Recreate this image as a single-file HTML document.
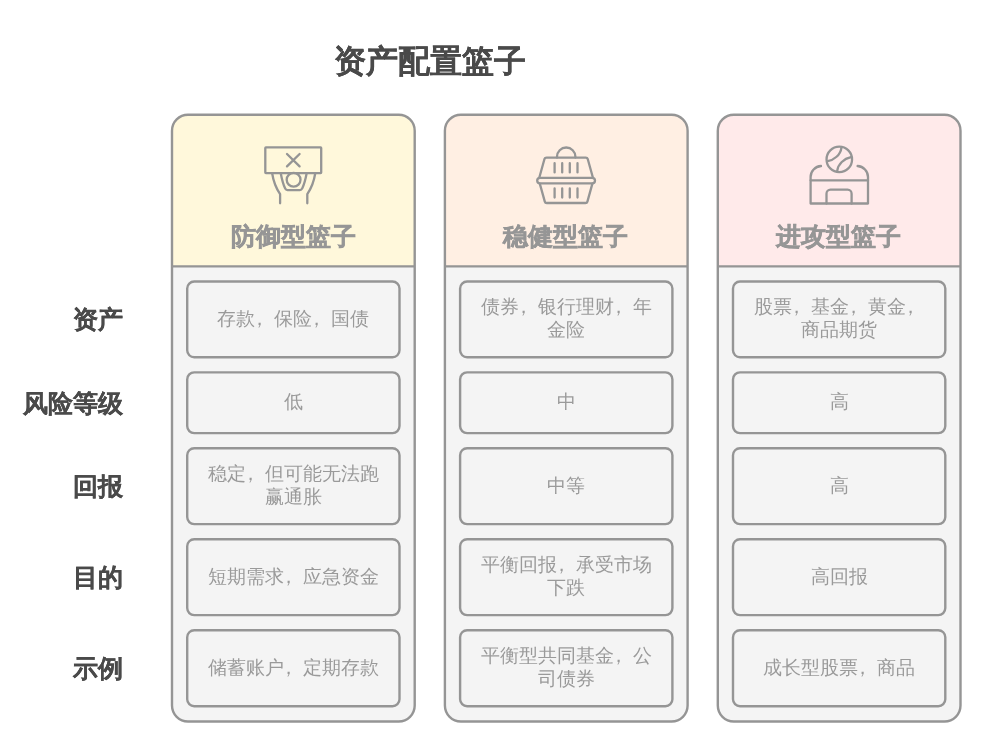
<!DOCTYPE html>
<html><head><meta charset="utf-8"><style>
html,body{margin:0;padding:0;background:#fff;width:987px;height:750px;overflow:hidden;position:relative;font-family:"Liberation Sans",sans-serif;}
svg{position:absolute;left:0;top:0}
.title,.hd,.lab,.cell{will-change:transform}
.title{position:absolute;left:0;width:860px;top:37.3px;text-align:center;font-size:32px;font-weight:bold;color:#4a4a4a;line-height:48px;-webkit-text-stroke:0.2px #4a4a4a}
.hd{position:absolute;top:216px;height:40px;line-height:40px;text-align:center;font-size:25px;font-weight:bold;color:#969696;-webkit-text-stroke:0.5px #969696}
.lab{position:absolute;left:0;width:123px;height:40px;line-height:40px;text-align:right;font-size:25px;font-weight:bold;color:#4a4a4a;-webkit-text-stroke:0.2px #4a4a4a}
.cell{position:absolute;text-align:center;font-size:19.2px;line-height:23px;color:#9a9a9a}
.cm{position:relative;left:-5px}
</style></head><body>
<svg width="987" height="750" viewBox="0 0 987 750">
<path d="M172,266.4 V130.7 A16,16 0 0 1 188,114.7 H398.7 A16,16 0 0 1 414.7,130.7 V266.4 Z" fill="#fff8db"/><path d="M172,266.4 V705.5 A16,16 0 0 0 188,721.5 H398.7 A16,16 0 0 0 414.7,705.5 V266.4 Z" fill="#f4f4f4"/><rect x="172" y="114.7" width="242.7" height="606.8" rx="16" fill="none" stroke="#959595" stroke-width="2.4"/><line x1="172" y1="266.4" x2="414.7" y2="266.4" stroke="#959595" stroke-width="2.4"/><rect x="187.2" y="281.5" width="212.3" height="75.8" rx="7" fill="#f4f4f4" stroke="#959595" stroke-width="2.4"/><rect x="187.2" y="372.4" width="212.3" height="60.7" rx="7" fill="#f4f4f4" stroke="#959595" stroke-width="2.4"/><rect x="187.2" y="448.2" width="212.3" height="75.9" rx="7" fill="#f4f4f4" stroke="#959595" stroke-width="2.4"/><rect x="187.2" y="539.2" width="212.3" height="75.9" rx="7" fill="#f4f4f4" stroke="#959595" stroke-width="2.4"/><rect x="187.2" y="630.2" width="212.3" height="76.0" rx="7" fill="#f4f4f4" stroke="#959595" stroke-width="2.4"/><path d="M444.9,266.4 V130.7 A16,16 0 0 1 460.9,114.7 H671.6 A16,16 0 0 1 687.6,130.7 V266.4 Z" fill="#ffefe3"/><path d="M444.9,266.4 V705.5 A16,16 0 0 0 460.9,721.5 H671.6 A16,16 0 0 0 687.6,705.5 V266.4 Z" fill="#f4f4f4"/><rect x="444.9" y="114.7" width="242.7" height="606.8" rx="16" fill="none" stroke="#959595" stroke-width="2.4"/><line x1="444.9" y1="266.4" x2="687.6" y2="266.4" stroke="#959595" stroke-width="2.4"/><rect x="460.1" y="281.5" width="212.3" height="75.8" rx="7" fill="#f4f4f4" stroke="#959595" stroke-width="2.4"/><rect x="460.1" y="372.4" width="212.3" height="60.7" rx="7" fill="#f4f4f4" stroke="#959595" stroke-width="2.4"/><rect x="460.1" y="448.2" width="212.3" height="75.9" rx="7" fill="#f4f4f4" stroke="#959595" stroke-width="2.4"/><rect x="460.1" y="539.2" width="212.3" height="75.9" rx="7" fill="#f4f4f4" stroke="#959595" stroke-width="2.4"/><rect x="460.1" y="630.2" width="212.3" height="76.0" rx="7" fill="#f4f4f4" stroke="#959595" stroke-width="2.4"/><path d="M717.8,266.4 V130.7 A16,16 0 0 1 733.8,114.7 H944.5 A16,16 0 0 1 960.5,130.7 V266.4 Z" fill="#ffeaea"/><path d="M717.8,266.4 V705.5 A16,16 0 0 0 733.8,721.5 H944.5 A16,16 0 0 0 960.5,705.5 V266.4 Z" fill="#f4f4f4"/><rect x="717.8" y="114.7" width="242.7" height="606.8" rx="16" fill="none" stroke="#959595" stroke-width="2.4"/><line x1="717.8" y1="266.4" x2="960.5" y2="266.4" stroke="#959595" stroke-width="2.4"/><rect x="733.0" y="281.5" width="212.3" height="75.8" rx="7" fill="#f4f4f4" stroke="#959595" stroke-width="2.4"/><rect x="733.0" y="372.4" width="212.3" height="60.7" rx="7" fill="#f4f4f4" stroke="#959595" stroke-width="2.4"/><rect x="733.0" y="448.2" width="212.3" height="75.9" rx="7" fill="#f4f4f4" stroke="#959595" stroke-width="2.4"/><rect x="733.0" y="539.2" width="212.3" height="75.9" rx="7" fill="#f4f4f4" stroke="#959595" stroke-width="2.4"/><rect x="733.0" y="630.2" width="212.3" height="76.0" rx="7" fill="#f4f4f4" stroke="#959595" stroke-width="2.4"/>

<g fill="none" stroke="#959595" stroke-width="2.3" stroke-linecap="round" stroke-linejoin="round">
 <rect x="265.3" y="147.3" width="55.9" height="25.9" rx="0.6"/>
 <path d="M287,154 L299.6,166.4 M299.6,154 L287,166.4"/>
 <circle cx="293.6" cy="179.7" r="6.9"/>
 <path d="M272.2,173.5 C273.5,182 276,188 280.1,194.2 V203.3"/>
 <path d="M315.2,173.5 C313.9,182 311.4,188 307.3,194.2 V203.3"/>
 <path d="M280.8,173.5 C282,180 283.5,185 285.2,188.6 Q285.9,190.1 287.5,190.1 H299.9 Q301.5,190.1 302.2,188.4 C303.9,185 305.4,180 306.6,173.5"/>
</g>
<g fill="none" stroke="#959595" stroke-width="2.3" stroke-linecap="round" stroke-linejoin="round">
 <path d="M557,157.6 V156.7 A9.2,9.2 0 0 1 575.4,156.7 V157.6"/>
 <path d="M539.4,177.3 L544.4,159.2 Q544.9,157.6 546.5,157.6 H585.7 Q587.3,157.6 587.8,159.2 L592.8,177.3"/>
 <rect x="537.2" y="177.8" width="57.8" height="5.6" rx="2.8"/>
 <path d="M539.8,183.6 L544.8,201.6 Q545.2,203 546.7,203 H585.5 Q587,203 587.4,201.6 L592.4,183.6"/>
 <path d="M554.6,163.2 V172.4 M562.2,163.2 V172.4 M569.8,163.2 V172.4 M577.5,163.2 V172.4"/>
 <path d="M554.6,188.4 V197.6 M562.2,188.4 V197.6 M569.8,188.4 V197.6 M577.5,188.4 V197.6"/>
</g>
<g fill="none" stroke="#959595" stroke-width="2.3" stroke-linecap="round" stroke-linejoin="round">
 <circle cx="839.3" cy="159.4" r="12.75"/>
 <path d="M827.6,161.2 C834,160 840.5,155 841.4,147.8"/>
 <path d="M837.2,170.9 C838,164 844,158.6 850.9,157.2"/>
 <path d="M821,166 A11,11 0 0 0 810.6,177 V203.5 H868 V177 A11,11 0 0 0 857.6,166"/>
 <path d="M810.6,180.3 H868"/>
 <path d="M826.5,203.5 V193.7 A4,4 0 0 1 830.5,189.7 H847.6 A4,4 0 0 1 851.6,193.7 V203.5"/>
</g>

</svg>
<div class="title">资产配置篮子</div>
<div class="cell" style="left:187px;top:307px;width:212px">存款<span class="cm">，</span>保险<span class="cm">，</span>国债</div><div class="cell" style="left:187px;top:390px;width:212px">低</div><div class="cell" style="left:187px;top:462px;width:212px">稳定<span class="cm">，</span>但可能无法跑<br>赢通胀</div><div class="cell" style="left:187px;top:565px;width:212px">短期需求<span class="cm">，</span>应急资金</div><div class="cell" style="left:187px;top:656px;width:212px">储蓄账户<span class="cm">，</span>定期存款</div><div class="hd" style="left:171.5px;width:242.7px">防御型篮子</div><div class="cell" style="left:460px;top:295px;width:212px">债券<span class="cm">，</span>银行理财<span class="cm">，</span>年<br>金险</div><div class="cell" style="left:460px;top:390px;width:212px">中</div><div class="cell" style="left:460px;top:474px;width:212px">中等</div><div class="cell" style="left:460px;top:553px;width:212px">平衡回报<span class="cm">，</span>承受市场<br>下跌</div><div class="cell" style="left:460px;top:644px;width:212px">平衡型共同基金<span class="cm">，</span>公<br>司债券</div><div class="hd" style="left:444.4px;width:242.7px">稳健型篮子</div><div class="cell" style="left:733px;top:295px;width:212px">股票<span class="cm">，</span>基金<span class="cm">，</span>黄金<span class="cm">，</span><br>商品期货</div><div class="cell" style="left:733px;top:390px;width:212px">高</div><div class="cell" style="left:733px;top:474px;width:212px">高</div><div class="cell" style="left:733px;top:565px;width:212px">高回报</div><div class="cell" style="left:733px;top:656px;width:212px">成长型股票<span class="cm">，</span>商品</div><div class="hd" style="left:717.3px;width:242.7px">进攻型篮子</div><div class="lab" style="top:299.4px">资产</div><div class="lab" style="top:382.75px">风险等级</div><div class="lab" style="top:466.15px">回报</div><div class="lab" style="top:557.15px">目的</div><div class="lab" style="top:648.2px">示例</div>
</body></html>
